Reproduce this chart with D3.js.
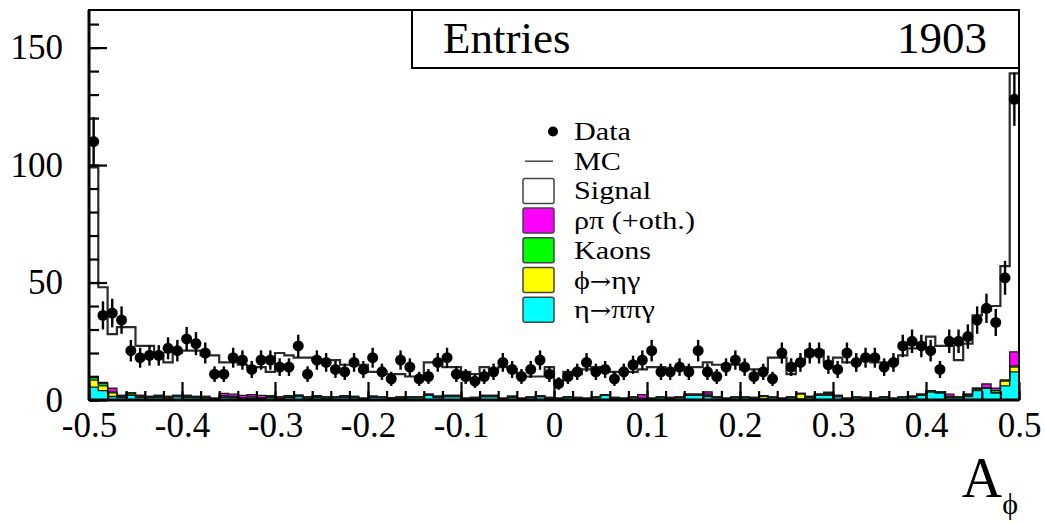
<!DOCTYPE html>
<html>
<head>
<meta charset="UTF-8">
<title>A_phi distribution</title>
<script src="https://d3js.org/d3.v7.min.js"></script>
<style>
  body { margin: 0; background: #fff; }
  svg { display: block; font-family: "Liberation Serif", "DejaVu Serif", serif; }
</style>
</head>
<body>
<div id="chart"></div>
<script>
// 100 bins of A_phi from -0.5 to 0.5
const xRange = [-0.5, 0.5];
const dataCounts = [
  110, 36, 37, 34, 21, 18, 19, 19, 22, 21,
  26, 24, 20, 11, 11, 18, 17, 13, 17, 17,
  14, 14, 23, 11, 17, 16, 13, 12, 16, 13,
  18, 12, 9, 17, 14, 9, 10, 16, 18, 11,
  10, 8, 10, 12, 16, 13, 10, 13, 17, 11,
  7, 10, 12, 16, 12, 13, 9, 12, 15, 17,
  21, 12, 12, 14, 12, 21, 12, 10, 14, 17,
  14, 10, 12, 9, 20, 14, 16, 20, 20, 15,
  13, 20, 16, 18, 18, 14, 16, 23, 25, 23,
  21, 13, 25, 25, 27, 34, 39, 33, 52, 128
];
const mcTotal = [
  99, 48, 28, 31, 31, 23, 23, 20, 16, 20,
  21, 21, 19, 19, 16, 16, 15, 14, 14, 12,
  20, 19, 18, 18, 17, 17, 17, 15, 15, 15,
  12, 12, 11, 11, 10, 10, 16, 16, 14, 14,
  12, 11, 14, 13, 14, 13, 10, 10, 10, 14,
  8, 12, 11, 13, 14, 13, 12, 12, 12, 13,
  14, 14, 13, 14, 14, 14, 16, 15, 15, 15,
  13, 13, 13, 18, 18, 11, 16, 21, 21, 16,
  18, 16, 16, 17, 16, 16, 16, 19, 22, 22,
  27, 23, 23, 17, 24, 36, 38, 40, 57, 139
];
const bgEtaPiPiGamma = [
  5.5, 4, 1.5, 1, 2, 1, 1, 1, 0.5, 1.5,
  1, 1, 0.5, 0.5, 1, 1, 0.5, 0.5, 0.5, 1,
  0.5, 1, 1.5, 0.5, 1, 0.5, 1, 1, 1, 0.5,
  1, 1, 0.5, 0.5, 1, 1, 2, 1, 1.5, 1.5,
  0.5, 0.5, 1.5, 1.5, 0.5, 1, 0.5, 1, 1.5, 0.5,
  0.5, 1, 0.5, 0.5, 1, 2, 0.5, 0.5, 1, 0.5,
  0.5, 1, 0.5, 1, 2, 2, 1.5, 1, 0.5, 1,
  1, 0.5, 0.5, 1, 0.5, 1, 0.5, 1, 2, 2,
  1.5, 0.5, 1, 0.5, 0.5, 1, 0.5, 1, 1, 2,
  3.5, 3, 1, 1, 1.5, 4, 5, 3, 6, 12
];
const bgPhiEtaGamma = [
  3, 2, 1.5, 0.5, 0.5, 0.5, 0, 0.5, 0.5, 0,
  0.5, 0, 0.5, 0, 0.3, 0, 0, 0.3, 0, 0.5,
  0.5, 0.5, 0.3, 0.5, 0.5, 0.3, 0, 0.5, 0, 0,
  0.3, 0, 0, 0.5, 0, 0, 0, 0.3, 0, 0,
  0, 0.3, 0, 0, 0, 0.3, 0, 0, 0, 0.3,
  0, 0, 0.3, 0, 0, 0, 0.3, 0, 0, 0,
  0, 0, 0.3, 0, 0, 0, 0.5, 0, 0, 0,
  0, 0.3, 1, 0, 0, 0, 2, 0, 0, 0.3,
  0, 0, 0, 0.3, 0, 0, 0, 0, 0.3, 0,
  0, 0, 0, 0, 0.5, 0.5, 0, 0, 2, 2
];
const bgKaons = [
  1, 1, 0.5, 0.5, 0.5, 0.5, 0.5, 0.5, 0.5, 0.5,
  0.5, 0.5, 0.5, 0.3, 0.5, 0.5, 0.5, 0.5, 0.5, 0.3,
  0.3, 0.3, 0.3, 0.3, 0.3, 0.5, 0.3, 0.3, 0.5, 0.3,
  0.3, 0.3, 0.5, 0.3, 0.3, 0.3, 0.5, 0.3, 0.5, 0.5,
  0.3, 0.3, 0.5, 0.5, 0.3, 0.3, 0.3, 0.3, 0.3, 0.3,
  0.3, 0.3, 0.3, 0.3, 0.3, 0.3, 0.3, 0.3, 0.3, 0.3,
  0.3, 0.3, 0.3, 0.3, 0.5, 0.5, 0.5, 0.3, 0.3, 0.3,
  0.3, 0.3, 0.3, 0.3, 0.3, 0.3, 0.3, 0.5, 0.5, 0.5,
  0.5, 0.3, 0.3, 0.3, 0.3, 0.3, 0.3, 0.3, 0.3, 0.5,
  0.5, 0.5, 0.5, 0.3, 0.5, 0.5, 0.3, 1, 0.5, 0.5
];
const bgRhoPi = [
  0.5, 0.5, 1.5, 0, 0, 0, 0, 0, 0, 0,
  0, 0, 0, 0, 1, 1, 1, 1, 1, 0,
  0, 0, 0, 0, 0, 0, 0, 0, 0, 0,
  0, 0, 0, 0, 0, 0, 0, 0, 0, 0,
  0, 0, 0, 0, 0, 0, 0, 0, 0, 0,
  0, 0, 0, 0, 0, 0, 0, 0, 0, 1.5,
  0, 0, 0, 0, 0, 0, 1, 0, 0, 0,
  0, 0, 0, 0, 0, 0, 0, 0, 0, 0.5,
  0, 0, 0, 0, 0, 0, 0, 0, 0, 0,
  0, 0, 1, 0, 0, 0, 1.5, 1, 0, 6
];
const xTicks = [-0.5, -0.4, -0.3, -0.2, -0.1, 0, 0.1, 0.2, 0.3, 0.4, 0.5];
const yTicks = [0, 50, 100, 150];
const yMax = 166;
const entries = 1903;

const legendLabels = ["Data", "MC", "Signal", "ρπ (+oth.)", "Kaons", "ϕ→ηγ", "η→ππγ"];
const bgKeys = ["eta", "phi", "kaons", "rho"];
const bgColors = { eta: "#00ffff", phi: "#ffff00", kaons: "#00ff00", rho: "#ff00ff" };

const margin = { top: 10, right: 26, bottom: 123, left: 89 },
  width = 1045 - margin.left - margin.right,
  height = 523 - margin.top - margin.bottom;

const svgRoot = d3.select("#chart").append("svg")
  .attr("width", 1045).attr("height", 523);
const svg = svgRoot.append("g")
  .attr("transform", `translate(${margin.left},${margin.top})`);

const x = d3.scaleLinear().domain(xRange).range([0, width]);
const y = d3.scaleLinear().domain([0, yMax]).range([height, 0]);

const nBins = dataCounts.length;
const binW = (xRange[1] - xRange[0]) / nBins;
const lowEdge = i => xRange[0] + i * binW;

// stacked backgrounds, bottom to top
const rows = d3.range(nBins).map(i => ({
  eta: bgEtaPiPiGamma[i], phi: bgPhiEtaGamma[i], kaons: bgKaons[i], rho: bgRhoPi[i]
}));
const stacked = d3.stack().keys(bgKeys)(rows);
const bgSum = rows.map(r => r.eta + r.phi + r.kaons + r.rho);

// step points: one per edge, last edge repeats last bin
const stepPts = (lo, hi) => d3.range(nBins + 1).map(i => {
  const k = Math.min(i, nBins - 1);
  return { e: lowEdge(i), lo: lo(k), hi: hi(k) };
});
const stepArea = d3.area().x(d => x(d.e)).y0(d => y(d.lo)).y1(d => y(d.hi)).curve(d3.curveStepAfter);
const stepLine = d3.line().x(d => x(d.e)).y(d => y(d.hi)).curve(d3.curveStepAfter);

// signal (white) on top of the backgrounds, outlined by the MC total
const sigPts = stepPts(k => bgSum[k], k => mcTotal[k]);
svg.append("path").attr("d", stepArea(sigPts)).attr("fill", "#fff");

stacked.forEach(layer => {
  const pts = stepPts(k => layer[k][0], k => layer[k][1]);
  svg.append("path").attr("d", stepArea(pts)).attr("fill", bgColors[layer.key]);
});
stacked.forEach(layer => {
  const pts = stepPts(k => layer[k][0], k => layer[k][1]);
  svg.append("path").attr("d", stepLine(pts))
    .attr("fill", "none").attr("stroke", "#1a1a1a").attr("stroke-width", 1.3);
});

svg.append("path").attr("d", stepLine(sigPts))
  .attr("fill", "none").attr("stroke", "#2a2a2a").attr("stroke-width", 2.2);

// axes, ticks pointing inwards
const fmt = d => String(+d.toFixed(1));
const xMinor = d3.range(0, 51).map(i => +(xRange[0] + i * 0.02).toFixed(2));
const yMinor = d3.range(0, 17).map(i => i * 10);

const xAxisMinor = svg.append("g").attr("transform", `translate(0,${height})`)
  .call(d3.axisBottom(x).tickValues(xMinor).tickSize(-9).tickFormat(""));
const xAxis = svg.append("g").attr("transform", `translate(0,${height})`)
  .call(d3.axisBottom(x).tickValues(xTicks).tickSize(-18).tickPadding(12).tickFormat(fmt));
const yAxisMinor = svg.append("g")
  .call(d3.axisLeft(y).tickValues(yMinor).tickSize(-10).tickFormat(""));
const yAxis = svg.append("g")
  .call(d3.axisLeft(y).tickValues(yTicks).tickSize(-18).tickPadding(26).tickFormat(fmt));

[xAxisMinor, xAxis, yAxisMinor, yAxis].forEach(a => {
  a.select(".domain").remove();
  a.selectAll("line").attr("stroke", "#000").attr("stroke-width", 2.2);
  a.selectAll("text").attr("fill", "#000")
    .style("font-family", "'Liberation Serif', serif").style("font-size", "35px");
});

// frame
svg.append("rect").attr("width", width).attr("height", height)
  .attr("fill", "none").attr("stroke", "#000").attr("stroke-width", 2);
svg.append("line").attr("x1", 0).attr("x2", 0).attr("y1", 0).attr("y2", height)
  .attr("stroke", "#000").attr("stroke-width", 3);
svg.append("line").attr("x1", 0).attr("x2", width).attr("y1", height).attr("y2", height)
  .attr("stroke", "#000").attr("stroke-width", 3);

// data points with sqrt(N) errors
const pts = svg.append("g");
dataCounts.forEach((n, i) => {
  const cx = x(lowEdge(i) + binW / 2);
  const err = Math.sqrt(n);
  pts.append("line").attr("x1", cx).attr("x2", cx)
    .attr("y1", y(n - err)).attr("y2", y(n + err))
    .attr("stroke", "#000").attr("stroke-width", 2.4);
  pts.append("circle").attr("cx", cx).attr("cy", y(n)).attr("r", 5.5).attr("fill", "#000");
});

// statistics box
const statX = 323;
svg.append("rect").attr("x", statX).attr("y", 0).attr("width", width - statX).attr("height", 58)
  .attr("fill", "#fff").attr("stroke", "#000").attr("stroke-width", 2);
svg.append("text").attr("x", statX + 31).attr("y", 43)
  .style("font-size", "45px").text("Entries");
svg.append("text").attr("x", 898).attr("y", 43).attr("text-anchor", "end")
  .style("font-size", "45px").text(entries);

// axis title
const title = svgRoot.append("text").attr("x", 1018).attr("y", 497).attr("text-anchor", "end");
title.append("tspan").style("font-size", "56px").text("A");
title.append("tspan").attr("dy", 17).style("font-size", "30px").text("ϕ");

// legend
const leg = svgRoot.append("g");
const legY0 = 131.5, legDy = 29.7;
legendLabels.forEach((lab, i) => {
  const cy = legY0 + i * legDy;
  if (i === 0) {
    leg.append("circle").attr("cx", 553).attr("cy", cy).attr("r", 5).attr("fill", "#000");
  } else if (i === 1) {
    leg.append("line").attr("x1", 525).attr("x2", 553).attr("y1", cy).attr("y2", cy)
      .attr("stroke", "#444").attr("stroke-width", 1.5);
  } else {
    const fill = i === 2 ? "#fff" : bgColors[["rho", "kaons", "phi", "eta"][i - 3]];
    leg.append("rect").attr("x", 523).attr("y", cy - 12.5).attr("width", 31).attr("height", 25)
      .attr("rx", 2).attr("fill", fill).attr("stroke", "#444").attr("stroke-width", 1.5);
  }
  // legend text is set a little wide
  const t = leg.append("text")
    .attr("transform", `translate(574,${cy + 8.5}) scale(1.16,1)`)
    .style("font-family", "'Liberation Serif', serif").style("font-size", "26px");
  lab.split(/(→)/).forEach(part => {
    if (part === "→") {
      t.append("tspan").style("font-family", "'DejaVu Serif', serif").style("font-size", "22px").text(part);
    } else if (part) {
      t.append("tspan").text(part);
    }
  });
});
</script>
</body>
</html>
